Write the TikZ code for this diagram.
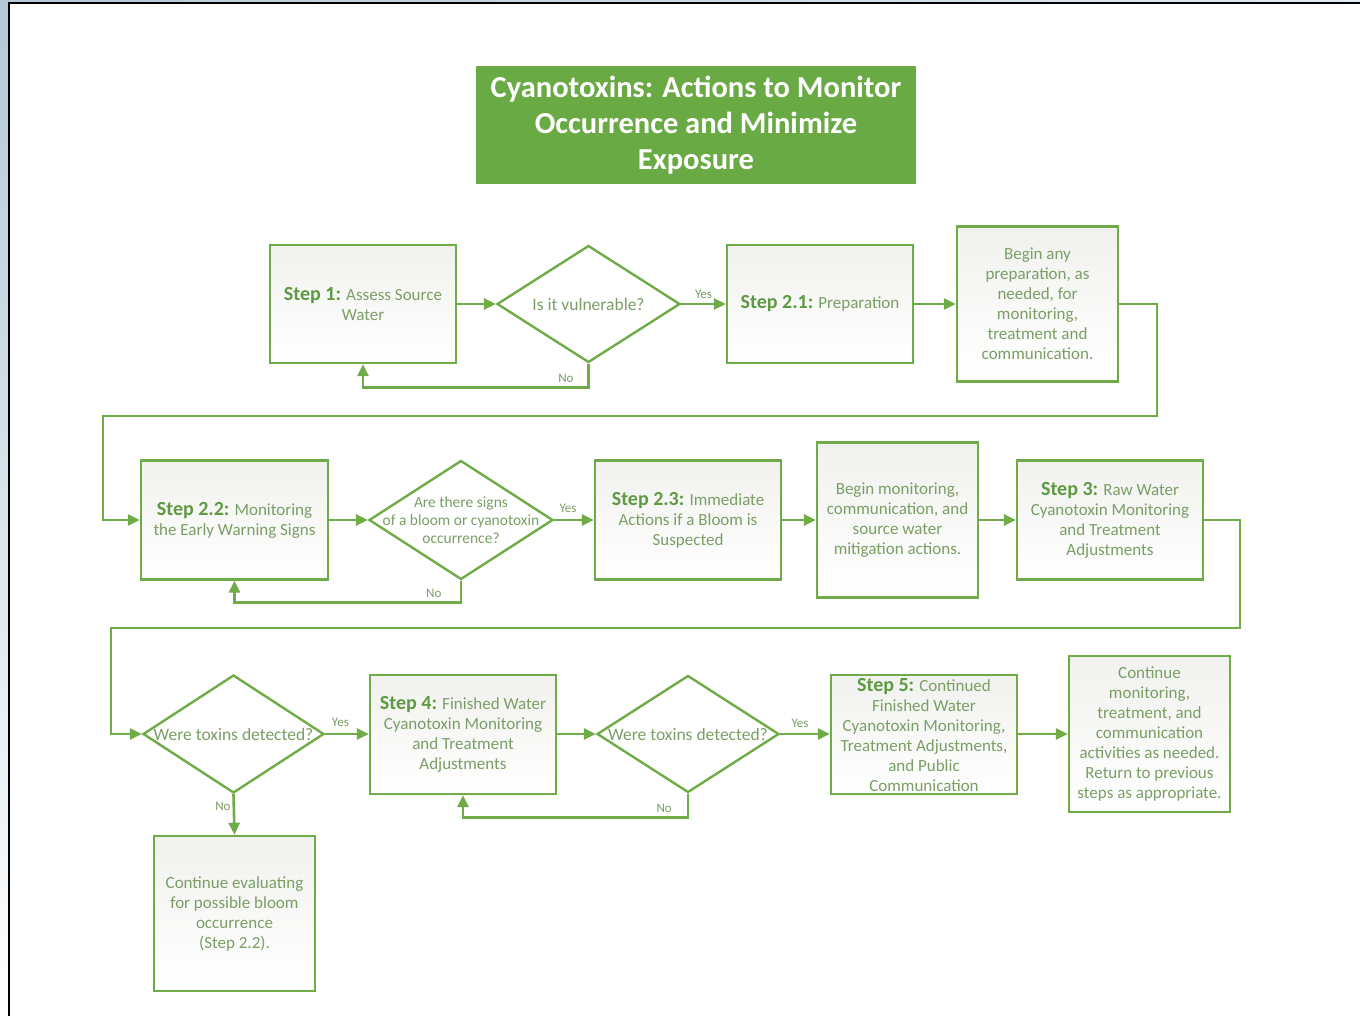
\documentclass[tikz,border=0pt]{standalone}
\usepackage{fontspec}
\setmainfont{Carlito}
\usetikzlibrary{shapes.geometric,arrows.meta,calc}
\definecolor{gline}{HTML}{6FAC47}
\definecolor{gtitle}{HTML}{6AAA45}
\definecolor{gtext}{HTML}{7A9E65}
\definecolor{gbold}{HTML}{5E9A42}
\definecolor{bgblue}{HTML}{B4C8D6}
\definecolor{boxtop}{HTML}{F1F2EF}
\newcommand{\stp}[1]{{\fontsize{20}{20}\selectfont\bfseries\color{gbold}#1}}
\begin{document}
\begin{tikzpicture}[x=1pt,y=-1pt,
  box/.style={draw=gline, line width=2.4pt, top color=boxtop, bottom color=white,
    align=center, text=gtext, font=\fontsize{17}{20}\selectfont, inner sep=0pt},
  stepbox/.style={box, minimum width=186pt, minimum height=118pt},
  notebox/.style={box, minimum width=161pt, minimum height=155pt},
  dia/.style={diamond, draw=gline, line width=2.4pt, fill=white, inner sep=0pt,
    minimum width=183pt, minimum height=117pt},
  dtext/.style={align=center, text=gtext, font=\fontsize{17.5}{18}\selectfont, inner sep=0pt},
  arr/.style={draw=gline, line width=2.6pt, -{Triangle[length=12pt,width=11pt]}},
  lab/.style={text=gtext, font=\fontsize{13}{14}\selectfont, inner sep=4pt}
]
\useasboundingbox (0,0) rectangle (1360,1016);
% page background and frame
\shade[top color=bgblue, bottom color=white] (0,0) rectangle (9,1016);
\shade[left color=bgblue, right color=bgblue!40] (0,0) rectangle (1360,4);
\fill[white] (9,4) rectangle (1360,1016);
\draw[black, line width=2pt] (8.5,1016) -- (8.5,3.5) -- (1360,3.5);

% title
\node[fill=gtitle, minimum width=440pt, minimum height=118pt, inner sep=0pt,
  text=white, align=center, font=\fontsize{30.5}{36}\selectfont\bfseries]
  (title) at (696,125) {Cyanotoxins: Actions to Monitor\\Occurrence and Minimize\\Exposure};

% row 1
\node[stepbox] (s1) at (363,304) {\stp{Step 1:} Assess Source\\Water};
\node[dia, label={[dtext]center:Is it vulnerable?}] (d1) at (588.5,304) {};
\node[stepbox] (s21) at (820,304) {\stp{Step 2.1:} Preparation};
\node[notebox] (b1) at (1037.5,304) {Begin any\\preparation, as\\needed, for\\monitoring,\\treatment and\\communication.};

% row 2
\node[stepbox, minimum width=187pt, minimum height=119pt] (s22) at (234.5,520) {\stp{Step 2.2:} Monitoring\\the Early Warning Signs};
\node[dia, minimum width=184pt, minimum height=119pt,
  label={[dtext, font=\fontsize{15.5}{18}\selectfont]center:Are there signs\\of a bloom or cyanotoxin\\occurrence?}] (d2) at (461,520) {};
\node[stepbox, minimum height=119pt] (s23) at (688,520) {\stp{Step 2.3:} Immediate\\Actions if a Bloom is\\Suspected};
\node[notebox] (b2) at (897.5,520) {Begin monitoring,\\communication, and\\source water\\mitigation actions.};
\node[stepbox, minimum height=119pt] (s3) at (1110,520) {\stp{Step 3:} Raw Water\\Cyanotoxin Monitoring\\and Treatment\\Adjustments};

% row 3
\node[dia, minimum width=181pt, minimum height=118pt,
  label={[dtext]center:Were toxins detected?}] (d3) at (233.5,734) {};
\node[stepbox, minimum height=119pt] (s4) at (463,734.5) {\stp{Step 4:} Finished Water\\Cyanotoxin Monitoring\\and Treatment\\Adjustments};
\node[dia, minimum width=182pt, minimum height=117pt,
  label={[dtext]center:Were toxins detected?}] (d4) at (688,734) {};
\node[stepbox, minimum height=119pt] (s5) at (924,734.5) {\stp{Step 5:} Continued\\Finished Water\\Cyanotoxin Monitoring,\\Treatment Adjustments,\\and Public\\Communication};
\node[notebox, minimum height=156pt] (b3) at (1149.5,734) {Continue\\monitoring,\\treatment, and\\communication\\activities as needed.\\Return to previous\\steps as appropriate.};
\node[notebox] (b4) at (234.5,913.5) {Continue evaluating\\for possible bloom\\occurrence\\(Step 2.2).};

% connectors row 1
\draw[arr] (s1.east) -- (d1.west);
\draw[arr] (d1.east) -- node[lab, above, pos=0.5] {Yes} (s21.west);
\draw[arr] (d1.south) -- ++(0,24) -| node[lab, above, pos=0.05] {No} (s1.south);
\draw[arr] (s21.east) -- (b1.west |- s21.east);
\draw[arr] (b1.east) -- (1157,304) -- (1157,416) -- (103,416) |- (s22.west);

% connectors row 2
\draw[arr] (s22.east) -- (d2.west);
\draw[arr] (d2.east) -- node[lab, above, pos=0.35, inner sep=6pt] {Yes} (s23.west);
\draw[arr] (d2.south) -- ++(0,22) -| node[lab, above, pos=0.06] {No} (s22.south);
\draw[arr] (s23.east) -- (b2.west);
\draw[arr] (b2.east) -- (s3.west);
\draw[arr] (s3.east) -- (1240,520) -- (1240,628) -- (111,628) |- (d3.west);

% connectors row 3
\draw[arr] (d3.east) -- node[lab, above, pos=0.35, inner sep=6pt] {Yes} (s4.west |- d3.east);
\draw[arr] (s4.east |- d4.west) -- (d4.west);
\draw[arr] (d4.east) -- node[lab, above, pos=0.4, inner sep=5pt] {Yes} (s5.west |- d4.east);
\draw[arr] (d4.south) -- ++(0,24) -| node[lab, above, pos=0.053] {No} (s4.south);
\draw[arr] (s5.east |- b3.west) -- (b3.west);
\draw[arr] (d3.south) -- node[lab, left, pos=0.3, inner sep=2pt] {No} (b4.north);
\end{tikzpicture}
\end{document}
